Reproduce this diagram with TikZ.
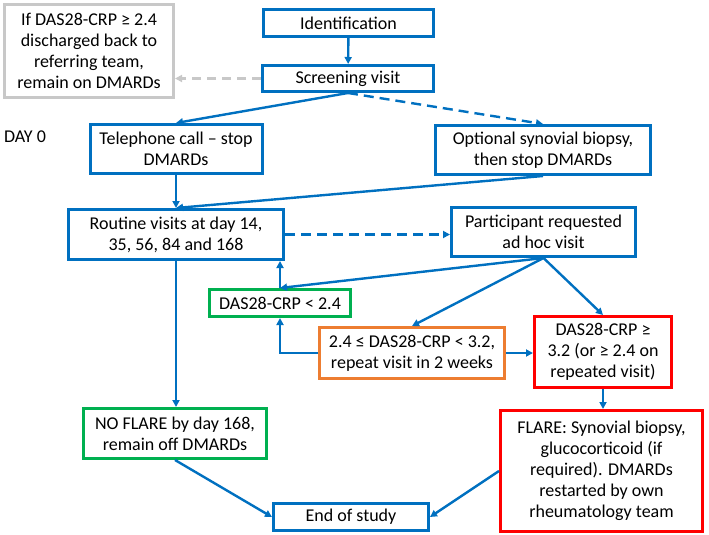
\documentclass[tikz,border=0pt]{standalone}
\usepackage{fontspec}
\setmainfont{Carlito}
\usetikzlibrary{arrows.meta}

\definecolor{flowblue}{RGB}{0,112,192}
\definecolor{flowgreen}{RGB}{0,176,80}
\definecolor{floworange}{RGB}{237,125,49}
\definecolor{flowred}{RGB}{255,0,0}
\definecolor{flowgray}{RGB}{200,200,200}

\begin{document}
\begin{tikzpicture}[x=1pt,y=-1pt,
  box/.style={draw=flowblue,line width=3pt,align=center,inner sep=2pt,
    font=\fontsize{18}{21}\selectfont},
  okbox/.style={box,draw=flowgreen},
  waitbox/.style={box,draw=floworange},
  flarebox/.style={box,draw=flowred},
  outbox/.style={box,draw=flowgray},
  link/.style={draw=flowblue,line width=2.4pt,-{Triangle[length=7pt,width=7pt]}},
  maybe/.style={link,dash pattern=on 10pt off 6pt},
  back/.style={link,draw=flowgray,dash pattern=on 9pt off 6pt}]
  \useasboundingbox (0,0) rectangle (709,535);

  % Entry and screening
  \node[box,minimum width=170pt,minimum height=27pt] (ident) at (348.5,23) {Identification};
  \node[box,minimum width=171pt,minimum height=26pt] (screen) at (348,78.5) {Screening visit};
  \node[outbox,minimum width=169pt,minimum height=93pt] (discharge) at (89,51)
    {If DAS28-CRP ≥ 2.4\\discharged back to\\referring team,\\remain on DMARDs};
  \node[font=\fontsize{18}{21}\selectfont] (day0) at (25,137) {DAY 0};

  % Day 0
  \node[box,minimum width=172pt,minimum height=49pt] (phone) at (176,149)
    {Telephone call – stop\\DMARDs};
  \node[box,minimum width=215pt,minimum height=49pt] (biopsy) at (543,150)
    {Optional synovial biopsy,\\then stop DMARDs};

  % Follow-up visits
  \node[box,minimum width=215pt,minimum height=50pt] (routine) at (176,234.5)
    {Routine visits at day 14,\\35, 56, 84 and 168};
  \node[box,minimum width=184pt,minimum height=49pt] (adhoc) at (543.5,232)
    {Participant requested\\ad hoc visit};
  \node[okbox,minimum width=141pt,minimum height=27pt] (low) at (280,303) {DAS28-CRP < 2.4};
  \node[waitbox,minimum width=185pt,minimum height=51pt] (mid) at (412,353)
    {2.4 ≤ DAS28-CRP < 3.2,\\repeat visit in 2 weeks};
  \node[flarebox,minimum width=137pt,minimum height=71pt] (high) at (603,352)
    {DAS28-CRP ≥\\3.2 (or ≥ 2.4 on\\repeated visit)};

  % Outcomes
  \node[okbox,minimum width=183pt,minimum height=50pt] (noflare) at (175,433.5)
    {NO FLARE by day 168,\\remain off DMARDs};
  \node[flarebox,minimum width=202pt,minimum height=121pt] (flare) at (601.5,471)
    {FLARE: Synovial biopsy,\\glucocorticoid (if\\required). DMARDs\\restarted by own\\rheumatology team};
  \node[box,minimum width=155pt,minimum height=27pt] (endst) at (351,517) {End of study};

  % Connectors
  \draw[link] (ident) -- (screen);
  \draw[back] (screen.west) -- (screen.west -| discharge.east);
  \draw[link] (screen.south) -- (phone.north);
  \draw[maybe] (screen.south) -- (biopsy.north);
  \draw[link] (phone) -- (routine);
  \draw[link] (biopsy.south) -- (routine.north);
  \draw[maybe] (routine.east) -- (routine.east -| adhoc.west);
  \draw[link] (adhoc.south) -- (low.north);
  \draw[link] (low.north) -- (low.north |- routine.south);
  \draw[link] (adhoc.south) -- (mid.north);
  \draw[link] (adhoc.south) -- (high.north);
  \draw[link] (mid.west) -| (low.south);
  \draw[link] (mid.east) -- (mid.east -| high.west);
  \draw[link] (high.south) -- (high.south |- flare.north);
  \draw[link] (routine.south) -- (routine.south |- noflare.north);
  \draw[link] (noflare.south) -- (endst.west);
  \draw[link] (flare.west) -- (endst.east);
\end{tikzpicture}
\end{document}
